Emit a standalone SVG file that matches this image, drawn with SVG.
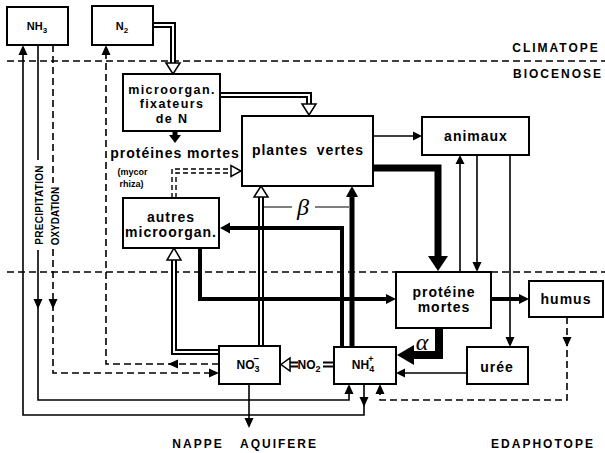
<svg xmlns="http://www.w3.org/2000/svg" width="605" height="453" viewBox="0 0 605 453">
<style>
.box{fill:#fff;stroke:#000;stroke-width:2}
.t{font-family:"Liberation Sans",Arial,sans-serif;font-weight:bold;fill:#000;text-anchor:middle}
.lbl{font-size:14px;letter-spacing:1px}
.zone{font-size:12px;letter-spacing:2px}
.greek{font-family:"Liberation Serif","Times New Roman",serif;font-style:italic;font-size:24px;fill:#000;text-anchor:middle}
.thin{stroke:#000;stroke-width:1.6;fill:none}
.dash{stroke:#000;stroke-width:1.6;fill:none;stroke-dasharray:7 4}
.sdash{stroke:#000;stroke-width:1.4;fill:none;stroke-dasharray:5 3}
.dblo{stroke:#000;stroke-width:6;fill:none}
.dbli{stroke:#fff;stroke-width:2;fill:none}
.thick{stroke:#000;fill:none;stroke-linejoin:miter}
.ah{fill:#000}
.oah{fill:#fff;stroke:#000;stroke-width:1.5;stroke-linejoin:miter}
</style>

<g id="zones">
<line class="dash" x1="7" y1="61" x2="605" y2="61"/>
<line class="dash" x1="7" y1="272" x2="605" y2="272"/>
<text class="t zone" x="556" y="52">CLIMATOPE</text>
<text class="t zone" x="558" y="78">BIOCENOSE</text>
<text class="t zone" x="543" y="448">EDAPHOTOPE</text>
<text class="t zone" x="198" y="448">NAPPE</text>
<text class="t zone" x="279" y="448">AQUIFERE</text>
</g>

<g id="connectors">
<!-- N2 -> fixateurs -->
<path class="dblo" d="M153,25 H173 V64"/><path class="dbli" d="M153,25 H173 V65"/>
<polygon class="oah" points="166,63 180,63 173,74"/>
<!-- fixateurs -> plantes -->
<path class="dblo" d="M220,95 H309 V105"/><path class="dbli" d="M219,95 H309 V106"/>
<polygon class="oah" points="302,104 316,104 309,115"/>
<!-- fixateurs -> proteines mortes -->
<line x1="175" y1="131" x2="175" y2="137" stroke="#000" stroke-width="5"/>
<polygon class="ah" points="169,135 181,135 175,143"/>
<!-- mycorrhiza -->
<path class="sdash" d="M172,198 V169 H232"/>
<path class="sdash" d="M176,198 V173 H232"/>
<polygon class="oah" points="231,165.5 231,176.5 241,171"/>
<!-- plantes -> animaux -->
<line class="thin" x1="373" y1="136" x2="414" y2="136"/>
<polygon class="ah" points="413,131.5 413,140.5 422,136"/>
<!-- plantes -> proteine (thick) -->
<path class="thick" stroke-width="7" d="M373,168 H438 V257"/>
<polygon class="ah" points="428,256 448,256 438,271"/>
<!-- proteine -> animaux -->
<line class="thin" x1="460" y1="272" x2="460" y2="163"/>
<polygon class="ah" points="455.5,164 464.5,164 460,155"/>
<!-- animaux -> proteine -->
<line class="thin" x1="477" y1="155" x2="477" y2="263"/>
<polygon class="ah" points="472.5,262 481.5,262 477,272"/>
<!-- animaux -> uree -->
<line class="thin" x1="510" y1="155" x2="510" y2="338"/>
<polygon class="ah" points="505.5,337 514.5,337 510,347"/>
<!-- proteine -> humus -->
<line x1="491" y1="299" x2="520" y2="299" stroke="#000" stroke-width="4"/>
<polygon class="ah" points="519,294 519,304 529,299"/>
<!-- humus -> NH4 (dashed) -->
<path class="dash" d="M567,317 V400 H380 V394"/>
<polygon class="ah" points="562.5,337 571.5,337 567,347"/>
<polygon class="ah" points="375.5,394 384.5,394 380,384"/>
<!-- alpha: proteine -> NH4 -->
<path class="thick" stroke-width="8" d="M439,328 V355 H412"/>
<polygon class="ah" points="414,345 414,365 397,355"/>
<text class="greek" x="422" y="350">α</text>
<!-- uree -> NH4 -->
<line class="thin" x1="467" y1="373" x2="405" y2="373"/>
<polygon class="ah" points="405,368.5 405,377.5 396,373"/>
<!-- NO2 -> NO3 -->
<path class="dblo" d="M298,364.5 H289"/><path class="dbli" d="M298,364.5 H288"/>
<polygon class="oah" points="290,358 290,371 281,364.5"/>
<path class="dblo" d="M323,364.5 H334"/><path class="dbli" d="M322,364.5 H334"/>
<!-- NO3 -> plantes -->
<path class="dblo" d="M261,346 V196"/><path class="dbli" d="M261,347 V195"/>
<polygon class="oah" points="254,197 268,197 261,186"/>
<!-- NH4 -> plantes -->
<line x1="352" y1="347" x2="352" y2="196" stroke="#000" stroke-width="5"/>
<polygon class="ah" points="346,197 358,197 352,186"/>
<!-- NH4 -> autres -->
<path class="thick" stroke-width="4" d="M342,347 V228 H229"/>
<polygon class="ah" points="230,222.5 230,233.5 220,228"/>
<!-- beta -->
<line x1="264" y1="207" x2="292" y2="207" stroke="#000" stroke-width="1"/>
<line x1="315" y1="207" x2="349" y2="207" stroke="#000" stroke-width="1"/>
<text class="greek" x="303" y="215">β</text>
<!-- autres -> proteine -->
<path class="thick" stroke-width="4" d="M200,248 V299 H387"/>
<polygon class="ah" points="386,294 386,304 396,299"/>
<!-- NO3 -> autres -->
<path class="dblo" d="M219,352 H174 V259"/><path class="dbli" d="M220,352 H174 V258"/>
<polygon class="oah" points="167,260 181,260 174,248"/>
<!-- NO3 -> N2 (denitrification, dashed) -->
<path class="dash" d="M219,364 H106 V55"/>
<polygon class="ah" points="178,359.5 178,368.5 168,364"/>
<polygon class="ah" points="101.5,55 110.5,55 106,45"/>
<!-- OXYDATION: NH3 -> NO3 (dashed) -->
<path class="dash" d="M53,45 V183"/>
<path class="dash" d="M53,249 V373 H210"/>
<polygon class="ah" points="48.5,299 57.5,299 53,309"/>
<polygon class="ah" points="209,368.5 209,377.5 219,373"/>
<!-- PRECIPITATION: NH3 -> NH4 -->
<path class="thin" d="M38,45 V160"/>
<path class="thin" d="M38,250 V400 H349 V393"/>
<polygon class="ah" points="33.5,299 42.5,299 38,309"/>
<polygon class="ah" points="344.5,394 353.5,394 349,384"/>
<!-- NH4 -> NH3 -->
<path class="thin" d="M364,384 V415 H23 V54"/>
<polygon class="ah" points="359.5,397 368.5,397 364,407"/>
<polygon class="ah" points="18.5,55 27.5,55 23,45"/>
<!-- NO3 -> nappe -->
<line class="thin" x1="249" y1="384" x2="249" y2="419"/>
<polygon class="ah" points="244.5,418 253.5,418 249,428"/>
<!-- vertical labels -->
<text class="t" font-size="10" letter-spacing="0.3" transform="translate(42.5,205) rotate(-90)">PRECIPITATION</text>
<text class="t" font-size="10" transform="translate(58.5,216) rotate(-90)">OXYDATION</text>
</g>

<g id="nh3">
<rect class="box" x="7" y="7" width="61" height="38"/>
<text class="t" font-size="11" x="37" y="30">NH<tspan font-size="8" dy="3">3</tspan></text>
</g>
<g id="n2">
<rect class="box" x="92" y="6" width="61" height="39"/>
<text class="t" font-size="11" x="122" y="30">N<tspan font-size="8" dy="3">2</tspan></text>
</g>
<g id="fixateurs">
<rect class="box" x="123" y="74" width="97" height="57"/>
<text class="t" font-size="12.5" letter-spacing="1.4" x="172" y="93.5">microorgan.</text>
<text class="t" font-size="12.5" letter-spacing="1.4" x="172" y="108">fixateurs</text>
<text class="t" font-size="12.5" letter-spacing="1.4" x="172" y="122.5">de  N</text>
</g>
<g id="proteines-mortes-myco">
<text class="t lbl" x="175" y="158" letter-spacing="0.4">protéines mortes</text>
<text class="t" font-size="9" x="132.5" y="175">(mycor</text>
<text class="t" font-size="9" x="131.5" y="187">rhiza)</text>
</g>
<g id="plantes">
<rect class="box" x="242" y="116" width="131" height="70"/>
<text class="t lbl" x="308" y="155" word-spacing="4">plantes vertes</text>
</g>
<g id="animaux">
<rect class="box" x="422" y="117" width="107" height="38"/>
<text class="t lbl" x="476" y="141">animaux</text>
</g>
<g id="autres">
<rect class="box" x="123" y="198" width="96" height="50"/>
<text class="t lbl" x="171" y="222">autres</text>
<text class="t lbl" x="171" y="237" letter-spacing="0.6">microorgan.</text>
</g>
<g id="proteine">
<rect class="box" x="396" y="272" width="95" height="56"/>
<text class="t lbl" x="444" y="297">protéine</text>
<text class="t lbl" x="444" y="312">mortes</text>
</g>
<g id="humus">
<rect class="box" x="529" y="281" width="74" height="36"/>
<text class="t lbl" x="566" y="304">humus</text>
</g>
<g id="uree">
<rect class="box" x="467" y="347" width="61" height="37"/>
<text class="t lbl" x="497" y="372">urée</text>
</g>
<g id="no3">
<rect class="box" x="219" y="346" width="61" height="38"/>
<text class="t" font-size="12" x="248" y="369">NO<tspan font-size="9" dy="3">3</tspan><tspan font-size="10" dx="-6" dy="-10">−</tspan></text>
</g>
<g id="no2">
<text class="t" font-size="12" x="309" y="369">NO<tspan font-size="9" dy="3">2</tspan></text>
</g>
<g id="nh4">
<rect class="box" x="334" y="347" width="62" height="37"/>
<text class="t" font-size="12" x="363" y="369">NH<tspan font-size="9" dy="3">4</tspan><tspan font-size="9" dx="-6" dy="-10">+</tspan></text>
</g>
</svg>
